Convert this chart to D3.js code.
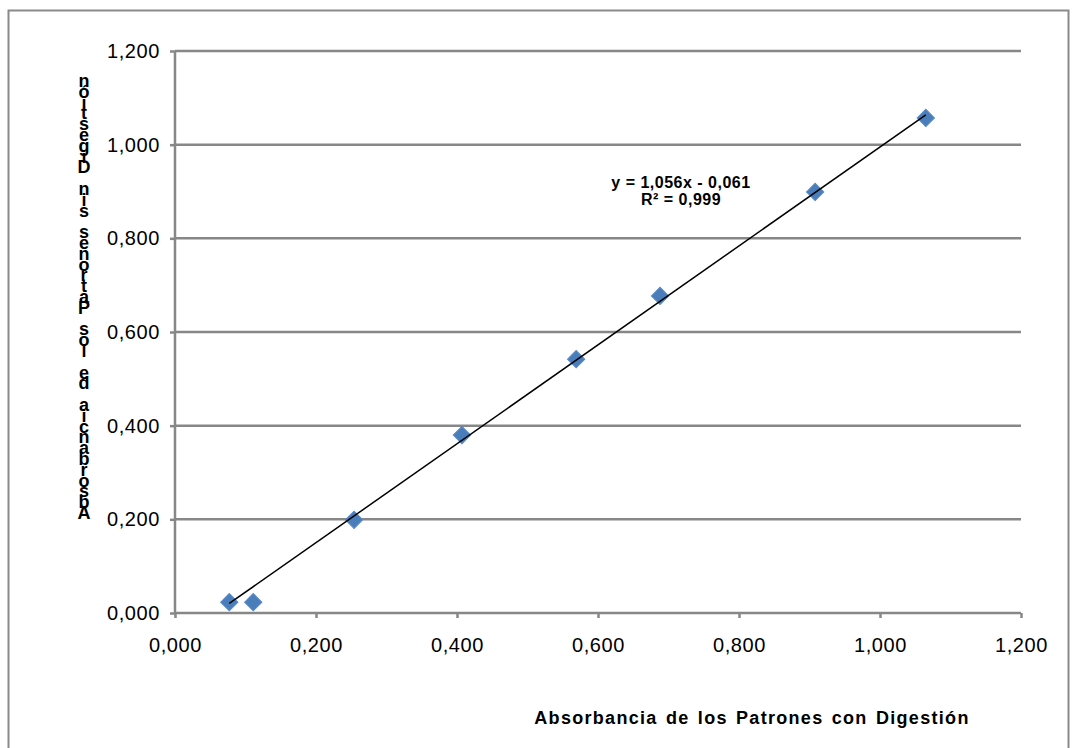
<!DOCTYPE html>
<html>
<head>
<meta charset="utf-8">
<script src="https://cdn.jsdelivr.net/npm/d3@7"></script>
<style>
  body { margin: 0; background: #fff; }
  svg { font-family: "Liberation Sans", Arial, sans-serif; }
</style>
</head>
<body>
<script>
"use strict";

// data
var xValues = [0.077, 0.111, 0.254, 0.407, 0.569, 0.688, 0.908, 1.065]
var yValues = [0.023, 0.023, 0.199, 0.380, 0.542, 0.677, 0.899, 1.057]
var xTicks = [0, 0.2, 0.4, 0.6, 0.8, 1.0, 1.2]
var xTickLabels = ["0,000", "0,200", "0,400", "0,600", "0,800", "1,000", "1,200"]
var yTicks = [0, 0.2, 0.4, 0.6, 0.8, 1.0, 1.2]
var yTickLabels = ["0,000", "0,200", "0,400", "0,600", "0,800", "1,000", "1,200"]
var trendSlope = 1.056
var trendIntercept = -0.061
var equationLines = ["y = 1,056x - 0,061", "R\u00b2 = 0,999"]
var xTitle = "Absorbancia de los Patrones con Digesti\u00f3n"
var yTitle = "Absorbancia de los Patrones sin Digesti\u00f3n"

var width = 1074
var height = 748
var margin = {left: 175, right: 53, top: 51, bottom: 135}
var gridColor = "#878787"
var markerColor = "#4a7ebb"

var svg = d3.select("body").append("svg")
    .attr("width", width)
    .attr("height", height)

// outer chart frame
svg.append("rect")
    .attr("x", 8.5)
    .attr("y", 10.5)
    .attr("width", 1060)
    .attr("height", 760)
    .attr("fill", "none")
    .attr("stroke", "#8a8a8a")
    .attr("stroke-width", 2)

var x = d3.scaleLinear().domain([0, 1.2]).range([margin.left, width - margin.right])
var y = d3.scaleLinear().domain([0, 1.2]).range([height - margin.bottom, margin.top])

// horizontal gridlines
svg.append("g").selectAll("line")
    .data(yTicks.slice(1))
    .enter().append("line")
    .attr("x1", x(0))
    .attr("x2", x(1.2))
    .attr("y1", function(d) { return y(d) })
    .attr("y2", function(d) { return y(d) })
    .attr("stroke", gridColor)
    .attr("stroke-width", 2.5)

var yAxis = svg.append("g")
    .attr("transform", "translate(" + x(0) + ",0)")
    .call(d3.axisLeft(y).tickValues(yTicks).tickSize(5).tickPadding(10)
        .tickFormat(function(d, i) { return yTickLabels[i] }))

var xAxis = svg.append("g")
    .attr("transform", "translate(0," + y(0) + ")")
    .call(d3.axisBottom(x).tickValues(xTicks).tickSize(5).tickPadding(20)
        .tickFormat(function(d, i) { return xTickLabels[i] }))

;[xAxis, yAxis].forEach(function(a) {
    a.select(".domain").attr("stroke", gridColor).attr("stroke-width", 2.5)
    a.selectAll(".tick line").attr("stroke", gridColor).attr("stroke-width", 2.5)
    a.selectAll(".tick text")
        .attr("fill", "#000")
        .style("font-size", "20px")
        .style("letter-spacing", "0.6px")
        .style("font-family", "'Liberation Sans', Arial, sans-serif")
})
xAxis.select(".domain").attr("d", "M" + x(0) + ",0H" + x(1.2))
yAxis.select(".domain").attr("d", "M0," + y(0) + "V" + y(1.2))

// markers
var pts = xValues.map(function(d, i) { return {x: d, y: yValues[i]} })
svg.append("g").selectAll("path")
    .data(pts)
    .enter().append("path")
    .attr("d", d3.symbol().type(d3.symbolSquare).size(150))
    .attr("transform", function(d) {
        return "translate(" + x(d.x) + "," + y(d.y) + ") rotate(45)"
    })
    .attr("fill", markerColor)
    .attr("stroke", "#5b8ac6")
    .attr("stroke-width", 1)

// linear trendline over the data range
var xExt = d3.extent(xValues)
var line = d3.line()
    .x(function(d) { return x(d) })
    .y(function(d) { return y(trendSlope * d + trendIntercept) })
svg.append("path")
    .attr("d", line(xExt))
    .attr("fill", "none")
    .attr("stroke", "#000")
    .attr("stroke-width", 1.5)

// equation label
svg.append("g").selectAll("text")
    .data(equationLines)
    .enter().append("text")
    .attr("x", 681)
    .attr("y", function(d, i) { return 188 + i * 17 })
    .attr("text-anchor", "middle")
    .style("font-size", "16px")
    .style("font-weight", "bold")
    .style("letter-spacing", "0.5px")
    .text(function(d) { return d })

// x axis title
svg.append("text")
    .attr("x", 752)
    .attr("y", 724)
    .attr("text-anchor", "middle")
    .style("font-size", "18px")
    .style("font-weight", "bold")
    .style("letter-spacing", "1.3px")
    .style("word-spacing", "2px")
    .text(xTitle)

// y axis title: characters stacked from the bottom up
var chars = yTitle.split("")
var step = 10.8
svg.append("g").selectAll("text")
    .data(chars)
    .enter().append("text")
    .attr("x", 84)
    .attr("y", function(d, i) { return 519 - i * step })
    .attr("text-anchor", "middle")
    .style("font-size", "18px")
    .style("font-weight", "bold")
    .text(function(d) { return d })
</script>
</body>
</html>
